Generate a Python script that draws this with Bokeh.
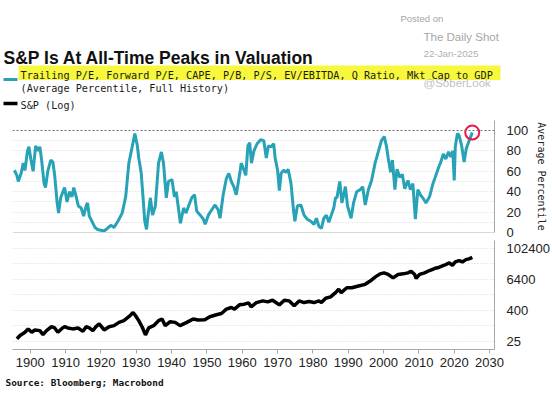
from bokeh.plotting import figure
from bokeh.layouts import column
from bokeh.models import Range1d, FixedTicker, Span, Title, PrintfTickFormatter
from bokeh.core.properties import value
from bokeh.embed import file_html
from bokeh.resources import INLINE

# ---------------- data ----------------
TITLE = "S&P Is At All-Time Peaks in Valuation"
LEGEND_1 = "Trailing P/E, Forward P/E, CAPE, P/B, P/S, EV/EBITDA, Q Ratio, Mkt Cap to GDP"
LEGEND_1B = "(Average Percentile, Full History)"
LEGEND_2 = "S&P (Log)"
SOURCE = "Source: Bloomberg; Macrobond"
Y1_LABEL = "Average Percentile"

pct_year = [1895.5, 1896.2, 1896.6, 1897.4, 1898.0, 1898.5, 1899.2, 1899.6, 1900.2, 1900.8,
            1901.5, 1902.2, 1902.7, 1903.2, 1903.9, 1904.3, 1905.0, 1905.8, 1906.4, 1906.9,
            1907.6, 1908.0, 1908.6, 1909.7, 1910.4, 1911.1, 1911.8, 1912.3, 1913.0, 1913.6,
            1914.4, 1915.1, 1915.8, 1916.2, 1916.7, 1917.6, 1918.3, 1919.0, 1920.9, 1921.8,
            1922.8, 1923.7, 1924.8, 1926.0, 1927.0, 1927.9, 1928.9, 1929.6, 1930.3, 1930.7,
            1931.4, 1931.9, 1932.4, 1932.9, 1933.3, 1934.0, 1934.6, 1935.4, 1936.3, 1937.1,
            1937.7, 1938.5, 1939.1, 1940.1, 1940.8, 1941.3, 1942.5, 1943.4, 1944.1, 1944.8,
            1945.7, 1946.5, 1947.1, 1948.1, 1949.0, 1949.5, 1950.4, 1951.3, 1952.3, 1953.2,
            1953.7, 1954.6, 1955.5, 1956.2, 1956.9, 1957.6, 1958.3, 1959.3, 1959.7, 1960.5,
            1961.0, 1961.6, 1962.1, 1962.6, 1963.3, 1964.2, 1965.2, 1966.1, 1966.8, 1967.4,
            1968.2, 1968.9, 1969.3, 1970.0, 1970.5, 1971.0, 1971.7, 1972.4, 1973.0, 1973.8,
            1974.5, 1974.9, 1975.6, 1976.6, 1977.5, 1978.4, 1979.4, 1980.3, 1981.0, 1981.7,
            1982.4, 1983.1, 1983.8, 1984.5, 1985.4, 1985.9, 1986.4, 1986.8, 1987.6, 1988.2,
            1989.2, 1989.8, 1990.8, 1991.5, 1992.4, 1993.4, 1994.1, 1994.8, 1995.7, 1996.6,
            1997.6, 1998.5, 1999.4, 2000.2, 2000.8, 2001.3, 2002.0, 2002.5, 2003.2, 2003.8,
            2004.6, 2005.3, 2006.0, 2006.9, 2007.6, 2008.3, 2009.0, 2009.7, 2010.4, 2011.1,
            2012.0, 2013.0, 2013.9, 2014.8, 2015.6, 2016.2, 2016.9, 2017.6, 2018.4, 2019.0,
            2019.6, 2020.0, 2020.3, 2020.9, 2021.4, 2022.1, 2022.8, 2023.4, 2024.2, 2024.9,
            2025.1]
pct_value = [61, 56, 50, 58, 68, 61, 80, 84, 71, 60,
             85, 80, 84, 71, 48, 44, 61, 71, 69, 56,
             29, 19, 34, 44, 30, 40, 35, 44, 35, 26,
             24, 16, 26, 29, 16, 10, 5, 3, 1.5, 4,
             7, 5, 11, 19, 35, 68, 85, 97, 85, 73,
             58, 35, 11, 3, 16, 34, 17, 26, 68, 79,
             68, 34, 50, 52, 35, 40, 9, 24, 19, 26,
             34, 37, 21, 17, 13, 8, 17, 22, 27, 22,
             14, 37, 53, 58, 50, 45, 37, 58, 68, 61,
             56, 85, 88, 68, 80, 87, 91, 90, 73, 85,
             84, 87, 73, 61, 41, 58, 61, 59, 62, 48,
             22, 11, 26, 27, 17, 13, 11, 8, 14, 6,
             4, 14, 17, 10, 19, 24, 34, 34, 50, 29,
             45, 26, 14, 29, 40, 42, 45, 27, 42, 51,
             68, 79, 90, 94, 85, 73, 59, 71, 42, 62,
             54, 57, 43, 51, 42, 48, 13, 42, 37, 34,
             29, 35, 47, 56, 64, 69, 77, 72, 79, 74,
             80, 51, 84, 97, 95, 85, 69, 82, 90, 96,
             98]

spx_year = [1896.2, 1897.1, 1898.5, 1899.4, 1900.4, 1901.3, 1902.7, 1903.6, 1904.6, 1906.0,
            1906.9, 1907.8, 1908.8, 1909.7, 1910.6, 1912.0, 1913.5, 1914.9, 1915.8, 1916.7,
            1917.7, 1918.6, 1919.5, 1920.9, 1922.3, 1923.7, 1925.1, 1926.5, 1927.9, 1929.1,
            1929.8, 1930.7, 1931.7, 1932.6, 1933.5, 1934.9, 1936.3, 1937.3, 1938.2, 1939.6,
            1941.0, 1942.4, 1944.3, 1946.1, 1947.5, 1949.4, 1950.8, 1952.7, 1954.1, 1955.5,
            1956.9, 1957.8, 1959.2, 1960.6, 1961.8, 1962.5, 1964.0, 1965.8, 1967.2, 1968.6,
            1970.5, 1971.9, 1973.3, 1974.7, 1976.1, 1977.5, 1978.9, 1980.3, 1981.7, 1982.4,
            1983.6, 1985.0, 1986.4, 1987.3, 1988.0, 1989.6, 1991.0, 1992.9, 1994.8, 1996.2,
            1997.6, 1999.0, 2000.1, 2001.3, 2002.7, 2004.1, 2005.5, 2006.9, 2007.8, 2008.8,
            2009.2, 2010.2, 2011.6, 2013.0, 2014.4, 2015.8, 2017.2, 2018.6, 2019.5, 2020.3,
            2021.4, 2022.3, 2023.3, 2024.4, 2025.1]
spx_value = [32, 43, 57, 77, 57, 70, 66, 46, 66, 94,
             84, 57, 77, 94, 84, 77, 84, 62, 94, 84,
             66, 94, 120, 70, 94, 103, 138, 161, 229, 335,
             250, 161, 89, 45, 84, 103, 161, 187, 103, 147,
             138, 103, 138, 187, 171, 176, 229, 273, 307, 453,
             521, 453, 662, 705, 790, 555, 812, 944, 864, 1005,
             662, 1005, 944, 607, 944, 812, 887, 812, 944, 812,
             1200, 1346, 1970, 2660, 1970, 3070, 3070, 3570, 4150, 5550,
             7900, 10600, 11600, 10050, 7430, 10050, 10600, 11600, 13460, 10050,
             7040, 10050, 11600, 14300, 17100, 19200, 22900, 28100, 22900, 30700,
             34700, 30700, 38000, 41500, 46600]

x_ticks = [1900, 1910, 1920, 1930, 1940, 1950, 1960, 1970, 1980, 1990, 2000, 2010, 2020, 2030]
pct_ticks = [0, 20, 40, 60, 80, 100]
pct_grid = [10, 20, 30, 40, 50, 60, 70, 80, 90]
spx_ticks = [25, 400, 6400, 102400]
spx_grid = [25, 100, 400, 1600, 6400, 25600, 102400]

# ---------------- styles ----------------
W = 552
TEAL = "#27a2b6"
TICK_FONT = "Liberation Sans"
TICK_SIZE = "13px"
GRID_COLOR = "#d6d6d6"
AXIS_COLOR = "#a8a8a8"
xr = Range1d(1894.96, 2031.4)

# ---------------- header ----------------
hdr = figure(width=W, height=120, x_range=Range1d(0, W), y_range=Range1d(120, 0),
             x_axis_location=None, y_axis_location=None, toolbar_location=None,
             output_backend="svg", min_border=0)
hdr.grid.visible = False
hdr.outline_line_color = None

hdr.quad(left=[18], right=[500], top=[65], bottom=[79.5], fill_color="#f7f73c", line_color=None)
hdr.text(x=[3], y=[57], text=[TITLE], text_font=value("Liberation Sans"), text_font_style="bold",
         text_font_size="17.5px", text_baseline="alphabetic", text_color="#111111")
hdr.segment(x0=[3], y0=[79], x1=[17], y1=[79], line_color=TEAL, line_width=3)
hdr.text(x=[20, 20], y=[75, 88], text=[LEGEND_1, LEGEND_1B], text_font=value("DejaVu Sans Mono"),
         text_font_size="10.2px", text_baseline="alphabetic", text_color="#1a1a1a")
hdr.segment(x0=[3], y0=[103], x1=[17], y1=[103], line_color="#000000", line_width=3.5)
hdr.text(x=[20], y=[105], text=[LEGEND_2], text_font=value("DejaVu Sans Mono"),
         text_font_size="10.2px", text_baseline="alphabetic", text_color="#1a1a1a")
# watermark
hdr.text(x=[400], y=[18], text=["Posted on"], text_font=value("Liberation Sans"),
         text_font_size="9.5px", text_baseline="alphabetic", text_color="#a6a6a6")
hdr.text(x=[423], y=[36], text=["The Daily Shot"], text_font=value("Liberation Sans"),
         text_font_size="11.5px", text_baseline="alphabetic", text_color="#a6a6a6")
hdr.text(x=[423], y=[53], text=["22-Jan-2025"], text_font=value("Liberation Sans"),
         text_font_size="9.8px", text_baseline="alphabetic", text_color="#b0b0b0")
hdr.text(x=[423], y=[82], text=["@SoberLook"], text_font=value("Liberation Sans"),
         text_font_size="11.5px", text_baseline="alphabetic", text_color="#b8b8b8", text_alpha=0.9)

# ---------------- top panel ----------------
top = figure(width=W, height=120, x_range=xr, y_range=Range1d(0, 109.8),
             y_axis_location="right", x_axis_location=None, toolbar_location=None,
             output_backend="svg", min_border_left=12, min_border_right=53,
             min_border_top=0, min_border_bottom=8)
top.outline_line_color = None
top.xgrid.visible = False
top.ygrid.ticker = FixedTicker(ticks=pct_grid)
top.ygrid.grid_line_color = GRID_COLOR
top.ygrid.grid_line_dash = "1 2"
top.add_layout(Span(location=100, dimension="width", line_color="#707070", line_dash="2 2", line_width=1))
top.add_layout(Span(location=0, dimension="width", line_color="#b4b4b4", line_width=1))
top.line(pct_year, pct_value, line_color=TEAL, line_width=3)
top.scatter([pct_year[-1]], [pct_value[-1]], marker="circle", size=14, fill_color=None,
            line_color="#e5194b", line_width=2)
ya = top.yaxis[0]
ya.ticker = FixedTicker(ticks=pct_ticks)
ya.axis_label = Y1_LABEL
ya.axis_label_text_font = "DejaVu Sans Mono"
ya.axis_label_text_font_size = "10px"
ya.axis_label_text_font_style = "normal"
ya.axis_label_text_color = "#222222"
ya.axis_label_standoff = 5
ya.major_label_text_font = TICK_FONT
ya.major_label_text_font_size = TICK_SIZE
ya.major_label_text_color = "#222222"
ya.major_label_standoff = 6
ya.major_tick_line_color = None
ya.minor_tick_line_color = None
ya.axis_line_color = AXIS_COLOR

# ---------------- bottom panel ----------------
bot = figure(width=W, height=154, x_range=xr, y_range=Range1d(12.2, 209500), y_axis_type="log",
             y_axis_location="right", toolbar_location=None, output_backend="svg",
             min_border_left=12, min_border_right=53, min_border_top=0, min_border_bottom=45)
bot.outline_line_color = None
bot.xgrid.visible = False
bot.ygrid.ticker = FixedTicker(ticks=spx_grid)
bot.ygrid.grid_line_color = GRID_COLOR
bot.ygrid.grid_line_dash = "1 2"
bot.line(spx_year, spx_value, line_color="#000000", line_width=3.5)

yb = bot.yaxis[0]
yb.ticker = FixedTicker(ticks=spx_ticks)
yb.formatter = PrintfTickFormatter(format="%d")
yb.major_label_text_font = TICK_FONT
yb.major_label_text_font_size = TICK_SIZE
yb.major_label_text_color = "#222222"
yb.major_label_standoff = 6
yb.major_tick_line_color = None
yb.minor_tick_line_color = None
yb.axis_line_color = AXIS_COLOR

xb = bot.xaxis[0]
xb.ticker = FixedTicker(ticks=x_ticks)
xb.major_label_text_font = TICK_FONT
xb.major_label_text_font_size = TICK_SIZE
xb.major_label_text_color = "#222222"
xb.major_label_standoff = 4
xb.major_tick_in = 0
xb.major_tick_out = 4
xb.major_tick_line_color = AXIS_COLOR
xb.minor_tick_line_color = None
xb.axis_line_color = AXIS_COLOR

bot.add_layout(Title(text=SOURCE, text_font="DejaVu Sans Mono", text_font_style="bold",
                     text_font_size="9.4px", text_color="#111111", align="left",
                     offset=-7, standoff=10), "below")

layout = column(hdr, column(top, bot, spacing=0), spacing=0)
open("out.html", "w").write(file_html(layout, INLINE))
